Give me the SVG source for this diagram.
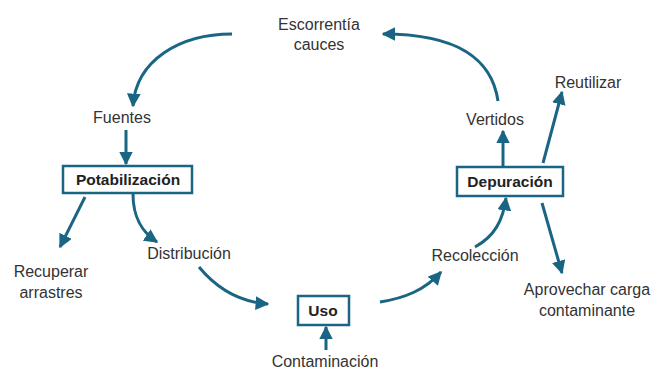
<svg xmlns="http://www.w3.org/2000/svg" width="654" height="369" viewBox="0 0 654 369">
<defs>
<marker id="ah" viewBox="0 0 10 10" refX="9" refY="5" markerWidth="4.6" markerHeight="4.6" orient="auto" markerUnits="strokeWidth">
<path d="M0,0 L10,5 L0,10 Z" fill="#1b6584"/>
</marker>
<style>
.t{font-family:"Liberation Sans",Arial,sans-serif;font-size:16px;fill:#333;text-anchor:middle}
.b{font-family:"Liberation Sans",Arial,sans-serif;font-size:15.5px;font-weight:bold;fill:#222;text-anchor:middle}
.box{fill:#fff;stroke:#1b6584;stroke-width:2.5}
.c{fill:none;stroke:#1b6584;stroke-width:3;marker-end:url(#ah)}
</style>
</defs>
<rect width="654" height="369" fill="#fff"/>
<g id="connectors">
<path class="c" d="M232,34 C180,34 136,60 133,106"/>
<path class="c" d="M126,130 L126,164"/>
<path class="c" d="M85,197 L60,247"/>
<path class="c" d="M133,194 C133,218 142,232 157,242"/>
<path class="c" d="M199,267 C218,290 240,302 268,304"/>
<path class="c" d="M326,350 L326,327"/>
<path class="c" d="M380,302 C405,298 425,290 441,272"/>
<path class="c" d="M475,247 C495,236 503,220 506,198"/>
<path class="c" d="M503,167 L503,131"/>
<path class="c" d="M498,101 C492,60 460,34 383,34"/>
<path class="c" d="M543,163 L562,92"/>
<path class="c" d="M542,203 L562,273"/>
</g>
<g id="escorrentia"><text class="t" x="319" y="30">Escorrentía</text><text class="t" x="319" y="50">cauces</text></g>
<g id="fuentes"><text class="t" x="122" y="123">Fuentes</text></g>
<g id="potabilizacion"><rect class="box" x="63" y="166" width="129" height="27"/><text class="b" x="128" y="185">Potabilización</text></g>
<g id="recuperar"><text class="t" x="51" y="277">Recuperar</text><text class="t" x="51" y="298">arrastres</text></g>
<g id="distribucion"><text class="t" x="189" y="259">Distribución</text></g>
<g id="uso"><rect class="box" x="298" y="296" width="51" height="29"/><text class="b" x="323" y="316">Uso</text></g>
<g id="contaminacion"><text class="t" x="325" y="367">Contaminación</text></g>
<g id="recoleccion"><text class="t" x="475" y="261">Recolección</text></g>
<g id="depuracion"><rect class="box" x="457" y="167" width="106" height="29"/><text class="b" x="510" y="187">Depuración</text></g>
<g id="vertidos"><text class="t" x="495" y="125">Vertidos</text></g>
<g id="reutilizar"><text class="t" x="588" y="88">Reutilizar</text></g>
<g id="aprovechar"><text class="t" x="587" y="295">Aprovechar carga</text><text class="t" x="587" y="316">contaminante</text></g>
</svg>
